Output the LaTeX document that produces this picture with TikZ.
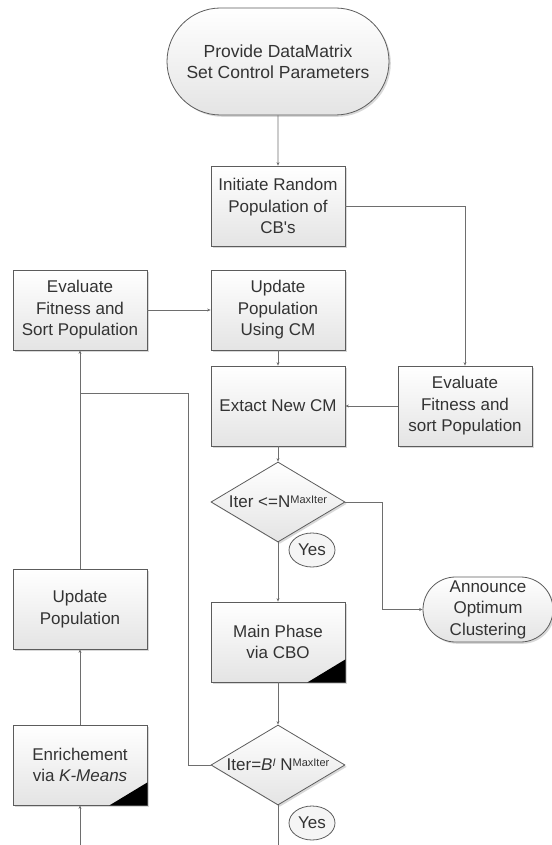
\documentclass[tikz,border=0pt]{standalone}
\usepackage{fontspec}
\setmainfont{Liberation Sans}
\usetikzlibrary{shapes.geometric,shapes.misc,arrows.meta,shadows}
\definecolor{linec}{HTML}{6E6E6E}
\definecolor{borderc}{HTML}{5C5C5C}
\definecolor{txtc}{HTML}{333333}
\definecolor{fillbot}{HTML}{E4E4E4}
\newcommand{\supx}[1]{\raisebox{4.5pt}{\fontsize{11}{11}\selectfont #1}}
\begin{document}
\begin{tikzpicture}[x=1pt,y=-1pt,
  font=\fontsize{17}{21.5}\selectfont, text=txtc,
  base/.style={draw=borderc, line width=0.8pt, top color=white, bottom color=fillbot,
    drop shadow={shadow xshift=1.8pt, shadow yshift=-1.8pt, fill=black!30, opacity=0.5},
    align=center, inner sep=0pt},
  procbox/.style={base, rectangle, minimum width=134pt, minimum height=80pt},
  termbox/.style={base, rounded rectangle},
  decis/.style={base, diamond, minimum width=134pt, minimum height=80pt},
  yesnode/.style={draw=borderc, line width=0.8pt, fill=white!96!black, ellipse, minimum width=46pt, minimum height=34pt, inner sep=0pt},
  conn/.style={draw=linec, line width=0.8pt, -{Stealth[length=3.5pt,width=3pt]}},
  plain/.style={draw=linec, line width=0.8pt}
]
\useasboundingbox (0,0) rectangle (551,845);

\node[termbox, minimum width=222pt, minimum height=107pt] (start) at (278,61.5) {\fontsize{17.5}{22}\selectfont Provide DataMatrix\\\fontsize{17.5}{22}\selectfont Set Control Parameters};
\node[procbox] (init) at (278,206) {Initiate Random\\Population of\\CB\textquotesingle s};
\node[procbox] (evl) at (80,310) {Evaluate\\Fitness and\\Sort Population};
\node[procbox] (upd) at (278,310) {Update\\Population\\Using CM};
\node[procbox] (ext) at (278,406) {Extact New CM};
\node[procbox] (evr) at (465,406) {Evaluate\\Fitness and\\sort Population};
\node[decis] (d1) at (278,502) {\makebox[0pt]{Iter <=N\supx{MaxIter}}};
\node[yesnode] (y1) at (312,550) {Yes};
\node[termbox, minimum width=130pt, minimum height=65pt] (ann) at (488,609.5) {Announce\\Optimum\\Clustering};
\node[procbox] (main) at (278,642) {Main Phase\\via CBO};
\node[decis] (d2) at (278,765) {\makebox[0pt]{Iter=\textit{B}\supx{\textit{I}} N\supx{MaxIter}}};
\node[yesnode] (y2) at (312,823) {Yes};
\node[procbox] (upp) at (80,609) {Update\\Population};
\node[procbox] (enr) at (80,765) {Enrichement\\via \textit{K-Means}};

\fill (main.south east) -- ++(-38,0) -- ++(38,-23) -- cycle;
\fill (enr.south east) -- ++(-38,0) -- ++(38,-23) -- cycle;

\coordinate (j1) at (382,502);
\coordinate (j2) at (188,393);
\coordinate (j3) at (80,393);
\coordinate (b1) at (80,846);
\coordinate (b2) at (278,846);

\draw[conn] (start) -- (init);
\draw[conn] (init.east) -| (evr.north);
\draw[conn] (evr) -- (ext);
\draw[conn] (evl) -- (upd);
\draw[conn] (upd) -- (ext);
\draw[conn] (ext) -- (d1);
\draw[conn] (d1) -- (main);
\draw[conn] (d1.east) -- (j1) |- (ann.west);
\draw[conn] (main) -- (d2);
\draw[plain] (d2.south) -- (b2);
\draw[conn] (upp) -- (evl);
\draw[plain] (d2.west) -| (j2) -- (j3);
\draw[conn] (enr) -- (upp);
\draw[conn] (b1) -- (enr);
\end{tikzpicture}
\end{document}
